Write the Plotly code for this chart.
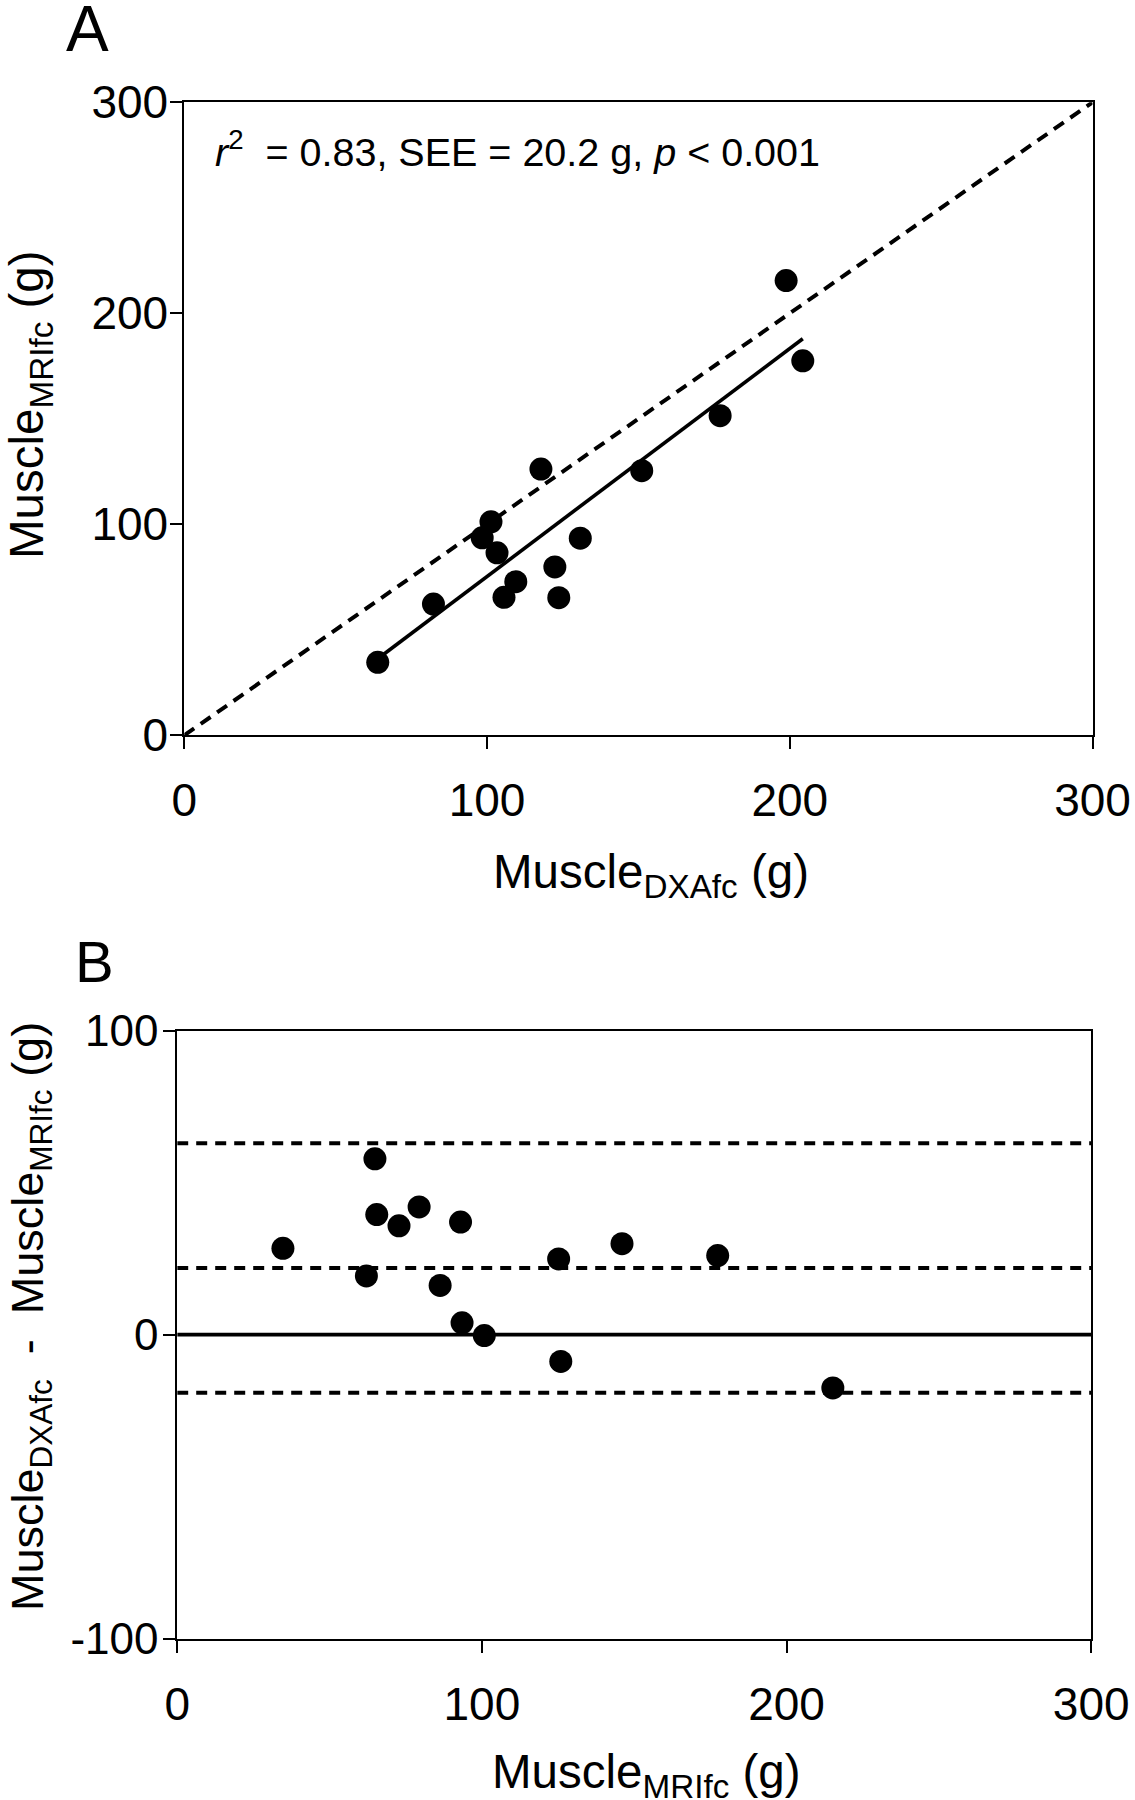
import numpy as np
import plotly.graph_objects as go

# ---------------- Data ----------------
# Panel A: Muscle DXAfc (x) vs Muscle MRIfc (y), grams
dxa_a = [63.9, 82.3, 98.4, 101.3, 103.3, 105.6, 109.5, 117.8, 122.4, 123.7,
         130.8, 151.1, 177.0, 198.8, 204.3]
mri_a = [34.6, 62.2, 93.6, 101.2, 86.5, 65.4, 72.8, 126.2, 79.8, 65.2,
         93.4, 125.4, 151.5, 215.5, 177.5]
identity_line = [0, 300]

# Panel B: Bland-Altman, x = Muscle MRIfc, y = DXAfc - MRIfc
mri_b = [34.7, 62.1, 64.9, 65.5, 72.8, 79.4, 86.3, 93.0, 93.5, 100.8,
         125.2, 125.9, 146.0, 177.4, 215.2]
diff_b = [28.4, 19.3, 57.8, 39.5, 35.8, 42.0, 16.2, 37.0, 3.9, -0.3,
          24.9, -8.8, 29.9, 26.0, -17.5]
mean_diff = 21.9
loa_upper = 62.9
loa_lower = -19.1
zero_ref = 0

# Axis ticks
ticks_a = [0, 100, 200, 300]
ticklabels_a = ["0", "100", "200", "300"]
ticks_bx = [0, 100, 200, 300]
ticklabels_bx = ["0", "100", "200", "300"]
ticks_by = [-100, 0, 100]
ticklabels_by = ["-100", "0", "100"]
range_a = [0, 300]
range_bx = [0, 300]
range_by = [-100, 100]

# ---------------- Figure ----------------
W, H = 1135, 1800
FONT = "Liberation Sans, Arial, Helvetica, sans-serif"
TICK_SIZE = 46
TITLE_SIZE = 47.5

def px(x):
    return x / W

def py(y):
    return 1 - y / H

fig = go.Figure()

# Panel A
slope, intercept = np.polyfit(dxa_a, mri_a, 1)
reg_x = [min(dxa_a), max(dxa_a)]
reg_y = [slope * v + intercept for v in reg_x]

fig.add_trace(go.Scatter(x=identity_line, y=identity_line, mode="lines",
                         line=dict(color="black", width=4, dash="12px,8px"),
                         xaxis="x", yaxis="y", showlegend=False, hoverinfo="skip"))
fig.add_trace(go.Scatter(x=reg_x, y=reg_y, mode="lines",
                         line=dict(color="black", width=3.6),
                         xaxis="x", yaxis="y", showlegend=False, hoverinfo="skip"))
fig.add_trace(go.Scatter(x=dxa_a, y=mri_a, mode="markers",
                         marker=dict(color="black", size=23, line=dict(width=0)),
                         xaxis="x", yaxis="y", showlegend=False))

# Panel B
for val, dash, width in [(loa_upper, "11px,8px", 4), (mean_diff, "11px,8px", 4),
                         (loa_lower, "11px,8px", 4), (zero_ref, "solid", 3.6)]:
    fig.add_trace(go.Scatter(x=range_bx, y=[val, val], mode="lines",
                             line=dict(color="black", width=width, dash=dash),
                             xaxis="x2", yaxis="y2", showlegend=False, hoverinfo="skip"))
fig.add_trace(go.Scatter(x=mri_b, y=diff_b, mode="markers",
                         marker=dict(color="black", size=23, line=dict(width=0)),
                         xaxis="x2", yaxis="y2", showlegend=False))

axis_common = dict(showgrid=False, zeroline=False, showline=True, linecolor="black",
                   linewidth=1.8, mirror=True, ticks="outside", ticklen=12,
                   tickwidth=1.8, tickcolor="black", automargin=False)

def tfont(size):
    return dict(family=FONT, size=size, color="black")

fig.update_layout(
    width=W, height=H,
    margin=dict(l=0, r=0, t=0, b=0, autoexpand=False),
    paper_bgcolor="white", plot_bgcolor="white",
    font=dict(family=FONT, color="black"),
    xaxis=dict(domain=[px(184.3), px(1092.5)], range=range_a, tickvals=ticks_a,
               ticktext=ticklabels_a, anchor="y", ticklabelstandoff=12,
               tickfont=tfont(TICK_SIZE), **axis_common),
    yaxis=dict(domain=[py(735.3), py(102.3)], range=range_a, tickvals=ticks_a,
               ticktext=ticklabels_a, anchor="x", ticklabelstandoff=-7,
               tickfont=tfont(TICK_SIZE), **axis_common),
    xaxis2=dict(domain=[px(177.2), px(1091.2)], range=range_bx, tickvals=ticks_bx,
                ticktext=ticklabels_bx, anchor="y2", ticklabelstandoff=12,
                tickfont=tfont(TICK_SIZE), **axis_common),
    yaxis2=dict(domain=[py(1638.8), py(1030.5)], range=range_by, tickvals=ticks_by,
                ticktext=ticklabels_by, anchor="x2", ticklabelstandoff=-4,
                tickfont=tfont(44), **axis_common),
)

ann_font = dict(family=FONT, color="black")
annotations = [
    dict(text="A", x=px(87.5), y=py(29), xanchor="center", yanchor="middle",
         font=dict(size=64, **ann_font)),
    dict(text="B", x=px(94), y=py(961), xanchor="center", yanchor="middle",
         font=dict(size=58, **ann_font)),
    dict(text="<i>r</i><sup>2</sup>&nbsp; = 0.83, SEE = 20.2 g, <i>p</i> &lt; 0.001",
         x=px(213), y=py(149), xanchor="left", yanchor="middle",
         font=dict(size=39.5, **ann_font)),
    dict(text="Muscle<sub>DXAfc</sub> (g)", x=px(651), y=py(875),
         xanchor="center", yanchor="middle", font=dict(size=TITLE_SIZE, **ann_font)),
    dict(text="Muscle<sub>MRIfc</sub> (g)", x=px(30), y=py(405), textangle=-90,
         xanchor="center", yanchor="middle", font=dict(size=TITLE_SIZE, **ann_font)),
    dict(text="Muscle<sub>MRIfc</sub> (g)", x=px(646), y=py(1775),
         xanchor="center", yanchor="middle", font=dict(size=TITLE_SIZE, **ann_font)),
    dict(text="Muscle<sub>DXAfc</sub>&nbsp; - &nbsp;Muscle<sub>MRIfc</sub> (g)",
         x=px(30), y=py(1317), textangle=-90,
         xanchor="center", yanchor="middle", font=dict(size=45, **ann_font)),
]
for a in annotations:
    a.update(xref="paper", yref="paper", showarrow=False)
fig.update_layout(annotations=annotations)

fig.write_html("out.html",
               config={"displayModeBar": False},
               post_script="document.body.style.margin='0px';document.body.style.padding='0px';")
